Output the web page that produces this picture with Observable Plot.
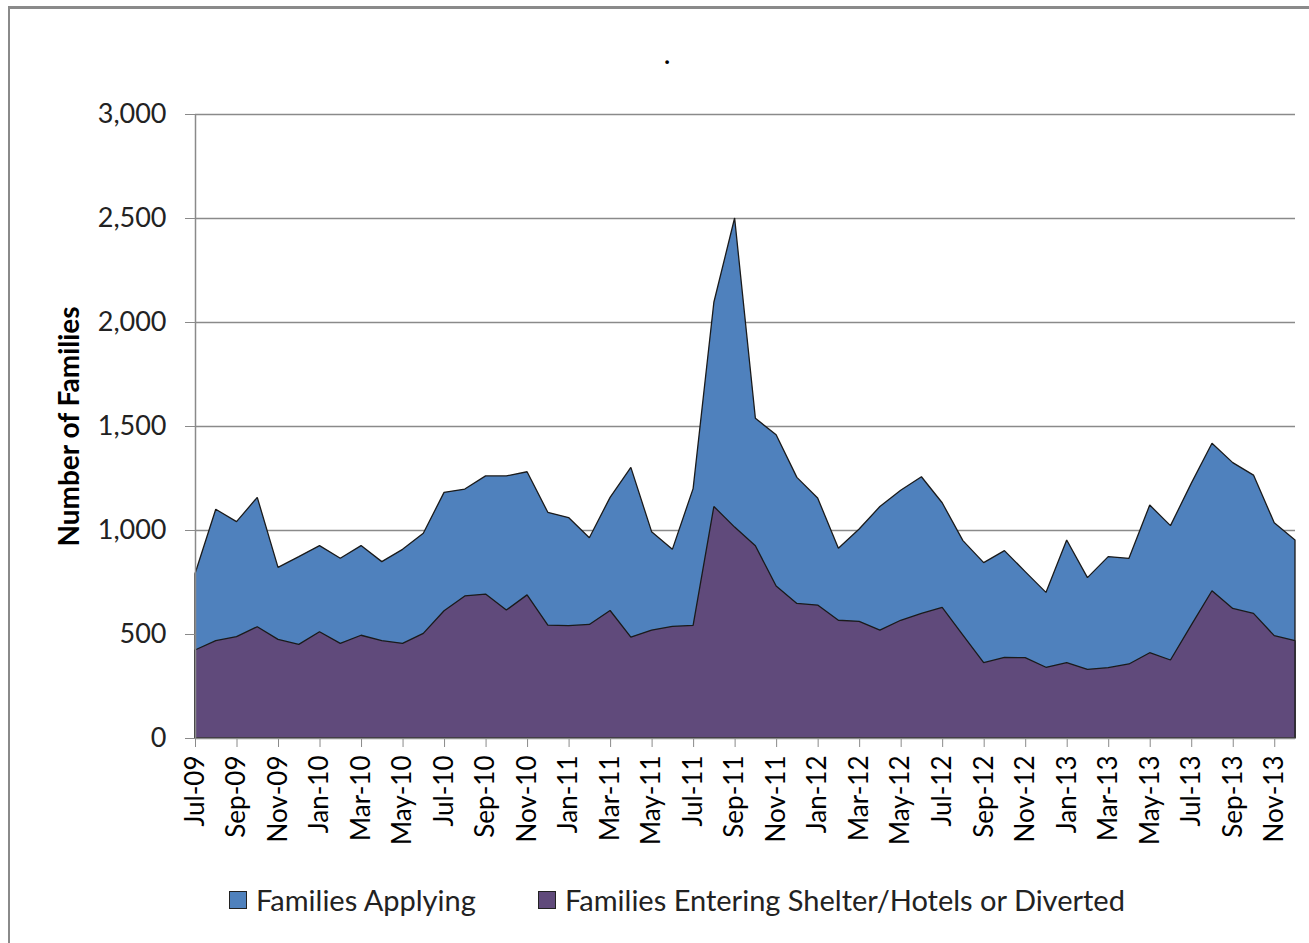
<!DOCTYPE html>
<html>
<head>
<meta charset="utf-8">
<script src="https://cdn.jsdelivr.net/npm/d3@7"></script>
<script src="https://cdn.jsdelivr.net/npm/@observablehq/plot@0.6"></script>
<style>
  html, body { margin: 0; padding: 0; background: #fff; }
  #wrap { position: relative; width: 1309px; height: 943px; overflow: hidden; font-family: Lato, "Open Sans", sans-serif; }
  #border { position: absolute; left: 8px; top: 6px; width: 1400px; height: 1000px; border-left: 2px solid #8a8a8a; border-top: 3px solid #8a8a8a; }
  #title { position: absolute; left: 0; width: 1334px; top: 40px; text-align: center; font-size: 24px; font-weight: bold; color: #000; }
  .leg { position: absolute; top: 882px; font-size: 29px; color: #222; display: flex; align-items: center; }
  .sw { width: 16px; height: 16px; border: 1.5px solid #222; margin-right: 9px; }
  #chart { position: absolute; left: 0; top: 0; }
</style>
</head>
<body>
<div id="wrap">
  <div id="border"></div>
  <div id="chart"></div>
  <div id="title">.</div>
  <div class="leg" style="left:229px"><div class="sw" style="background:#4F81BD"></div>Families Applying</div>
  <div class="leg" style="left:538px"><div class="sw" style="background:#604A7B"></div>Families Entering Shelter/Hotels or Diverted</div>
</div>
<script>
const months = [
  "Jul-09","Aug-09","Sep-09","Oct-09","Nov-09","Dec-09",
  "Jan-10","Feb-10","Mar-10","Apr-10","May-10","Jun-10","Jul-10","Aug-10","Sep-10","Oct-10","Nov-10","Dec-10",
  "Jan-11","Feb-11","Mar-11","Apr-11","May-11","Jun-11","Jul-11","Aug-11","Sep-11","Oct-11","Nov-11","Dec-11",
  "Jan-12","Feb-12","Mar-12","Apr-12","May-12","Jun-12","Jul-12","Aug-12","Sep-12","Oct-12","Nov-12","Dec-12",
  "Jan-13","Feb-13","Mar-13","Apr-13","May-13","Jun-13","Jul-13","Aug-13","Sep-13","Oct-13","Nov-13","Dec-13"
];
const applying = [
  790, 1100, 1040, 1157, 820, 872,
  925, 864, 925, 848, 907, 984, 1181, 1197, 1260, 1260, 1280, 1085,
  1060, 963, 1157, 1301, 992, 907, 1199, 2095, 2500, 1537, 1458, 1253,
  1154, 912, 1005, 1113, 1191, 1256, 1131, 949, 843, 901, 800, 700,
  952, 771, 872, 864, 1120, 1021, 1224, 1417, 1324, 1264, 1035, 952
];
const entering = [
  423, 468, 487, 535, 474, 450,
  511, 455, 494, 468, 455, 503, 612, 683, 692, 615, 688, 543,
  540, 546, 613, 485, 519, 537, 541, 1113, 1014, 924, 731, 647,
  639, 566, 561, 519, 566, 599, 628, 495, 362, 388, 386, 340,
  362, 330, 338, 356, 410, 375, 543, 708, 623, 599, 492, 468
];
const yTicks = [0, 500, 1000, 1500, 2000, 2500, 3000];
const xTickLabels = months.filter((m, i) => i % 2 === 0);

const data = months.map((m, i) => ({month: m, applying: applying[i], entering: entering[i]}));

const chart = Plot.plot({
  width: 1309,
  height: 943,
  marginLeft: 195,
  marginRight: 14,
  marginTop: 114,
  marginBottom: 205,
  style: {fontFamily: "Lato, 'Open Sans', sans-serif", color: "#222", background: "transparent"},
  x: {type: "point", domain: months, padding: 0},
  y: {domain: [0, 3000]},
  marks: [
    Plot.gridY(yTicks.filter(d => d > 0), {stroke: "#8a8a8a", strokeOpacity: 1, strokeWidth: 1.5}),
    Plot.areaY(data, {x: "month", y: "applying", fill: "#4F81BD", stroke: "#1a1a1a", strokeWidth: 1.3, strokeLinejoin: "miter"}),
    Plot.areaY(data, {x: "month", y: "entering", fill: "#604A7B", stroke: "#1a1a1a", strokeWidth: 1.3, strokeLinejoin: "miter"}),
    Plot.ruleY([0], {stroke: "#8a8a8a", strokeWidth: 1.5}),
    Plot.ruleX([months[0]], {stroke: "#8a8a8a", strokeWidth: 1.5}),
    Plot.axisY({ticks: yTicks, tickFormat: d3.format(","), tickSize: 10, tickPadding: 19, fontSize: 27, stroke: "#8a8a8a", fill: "#222", label: null}),
    Plot.axisX({ticks: xTickLabels, tickSize: 9, tickPadding: 8, tickRotate: -90, fontSize: 26, stroke: "#8a8a8a", fill: "#000", label: null}),
    Plot.text(["Number of Families"], {frameAnchor: "left", dx: -125, rotate: -90, textAnchor: "middle", fontSize: 28, fontWeight: "bold", fill: "#000"})
  ]
});
document.getElementById("chart").appendChild(chart);
</script>
</body>
</html>
